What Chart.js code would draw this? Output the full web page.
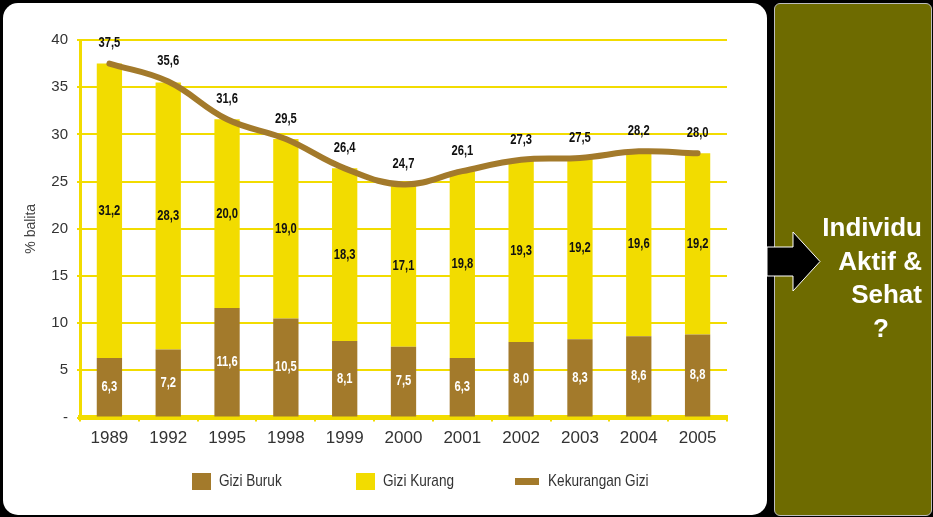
<!DOCTYPE html>
<html><head><meta charset="utf-8">
<script src="https://cdn.jsdelivr.net/npm/chart.js@4.4.0/dist/chart.umd.min.js"></script>
<style>
html,body{margin:0;padding:0;background:#000;width:933px;height:517px;overflow:hidden;}
#panel{position:absolute;left:3px;top:3px;width:764px;height:512px;background:#fff;border-radius:15px;}
#chartWrap{position:absolute;left:0;top:0;width:768px;height:516px;}
#side{position:absolute;left:774px;top:3px;width:158px;height:513px;background:#6e6b00;border:1px solid #bdbdbd;border-radius:6px;box-sizing:border-box;}
#arrow{position:absolute;left:0;top:0;}
#msg{position:absolute;right:11px;top:211px;font:bold 26px "Liberation Sans",Arial,sans-serif;color:#fff;text-align:right;line-height:33.5px;}
</style></head>
<body>
<div id="panel"></div>
<div id="side"></div>
<div id="chartWrap"><canvas id="c" width="768" height="516"></canvas></div>
<svg id="arrow" width="933" height="517"><polygon points="767,247 793,247 793,232 820,261.5 793,291 793,276 767,276" fill="#000" stroke="#fff" stroke-width="1"/></svg>
<div id="msg">Individu<br>Aktif &amp;<br>Sehat<br><span style="padding-right:33px">?</span></div>
<script>
// ---- data ----
const categories = ['1989','1992','1995','1998','1999','2000','2001','2002','2003','2004','2005'];
const giziBuruk = [6.3, 7.2, 11.6, 10.5, 8.1, 7.5, 6.3, 8.0, 8.3, 8.6, 8.8];
const giziKurang = [31.2, 28.3, 20.0, 19.0, 18.3, 17.1, 19.8, 19.3, 19.2, 19.6, 19.2];
const kekuranganGizi = [37.5, 35.6, 31.6, 29.5, 26.4, 24.7, 26.1, 27.3, 27.5, 28.2, 28.0];
const seriesNames = ['Gizi Buruk', 'Gizi Kurang', 'Kekurangan Gizi'];
const yAxisTitle = '% balita';

// ---- styles ----
const BROWN = '#a37a2b';
const YELLOW = '#f2dc00';
const SANS = '"Liberation Sans", Arial, sans-serif';
const SQUEEZE = 0.8;

const fmt = v => v.toFixed(1).replace('.', ',');

function narrowText(ctx, txt, x, y) {
  ctx.save();
  ctx.translate(x, y);
  ctx.scale(SQUEEZE, 1);
  ctx.fillText(txt, 0, 0);
  ctx.restore();
}

const valueLabels = {
  id: 'valueLabels',
  afterDatasetsDraw(chart) {
    const ctx = chart.ctx;
    ctx.save();
    ctx.font = 'bold 14px ' + SANS;
    ctx.textAlign = 'center';
    ctx.textBaseline = 'middle';
    chart.data.datasets.forEach((ds, i) => {
      const meta = chart.getDatasetMeta(i);
      meta.data.forEach((el, j) => {
        const txt = fmt(ds.data[j]);
        if (ds.type === 'line') {
          ctx.fillStyle = '#111';
          narrowText(ctx, txt, el.x, el.y - 20);
        } else {
          ctx.fillStyle = ds.labelColor;
          narrowText(ctx, txt, el.x, (el.y + el.base) / 2);
        }
      });
    });
    ctx.restore();
  }
};

const legendRow = {
  id: 'legendRow',
  afterDraw(chart) {
    const ctx = chart.ctx;
    const area = chart.chartArea;
    const cy = area.bottom + 64;
    const starts = [112, 276, 435];
    ctx.save();
    ctx.font = '17px ' + SANS;
    ctx.textBaseline = 'middle';
    ctx.textAlign = 'left';
    chart.data.datasets.forEach((ds, i) => {
      const x = area.left + starts[i];
      ctx.fillStyle = ds.type === 'line' ? ds.borderColor : ds.backgroundColor;
      let tx;
      if (ds.type === 'line') {
        ctx.fillRect(x, cy - 3.5, 24, 7);
        tx = x + 33;
      } else {
        ctx.fillRect(x, cy - 8.5, 19, 17);
        tx = x + 27;
      }
      ctx.fillStyle = '#333';
      narrowText(ctx, ds.label, tx, cy);
    });
    ctx.restore();
  }
};

new Chart(document.getElementById('c'), {
  data: {
    labels: categories,
    datasets: [
      { type: 'bar', label: seriesNames[0], data: giziBuruk, backgroundColor: BROWN, labelColor: '#fff', stack: 's', order: 1,
        barPercentage: 0.43, categoryPercentage: 1 },
      { type: 'bar', label: seriesNames[1], data: giziKurang, backgroundColor: YELLOW, labelColor: '#111', stack: 's', order: 1,
        barPercentage: 0.43, categoryPercentage: 1 },
      { type: 'line', label: seriesNames[2], data: kekuranganGizi, borderColor: BROWN, backgroundColor: BROWN,
        borderWidth: 6, tension: 0.4, pointRadius: 0, borderCapStyle: 'round', stack: 'line', order: 0 }
    ]
  },
  options: {
    responsive: false,
    animation: false,
    layout: { padding: { left: 0, right: 41, top: 40, bottom: 60.5 } },
    plugins: { legend: { display: false }, tooltip: { enabled: false } },
    scales: {
      x: {
        stacked: true,
        z: 1,
        border: { color: YELLOW, width: 5 },
        grid: { color: YELLOW, lineWidth: 2, drawOnChartArea: false, drawTicks: true, tickLength: 4 },
        ticks: { color: '#333', font: { family: SANS, size: 17 }, padding: 7, maxRotation: 0 },
        afterFit: s => { s.height = 38; }
      },
      y: {
        stacked: true,
        min: 0, max: 40,
        border: { color: YELLOW, width: 3 },
        grid: { color: YELLOW, lineWidth: 2, tickLength: 3 },
        ticks: { stepSize: 5, color: '#333', font: { family: SANS, size: 15 }, padding: 9,
                 callback: v => v === 0 ? '-' : v },
        title: { display: true, text: yAxisTitle, color: '#444', font: { family: SANS, size: 14 }, padding: { top: 23, bottom: 0 } },
        afterFit: s => { s.width = 80; }
      }
    }
  },
  plugins: [valueLabels, legendRow]
});
</script>
</body></html>
